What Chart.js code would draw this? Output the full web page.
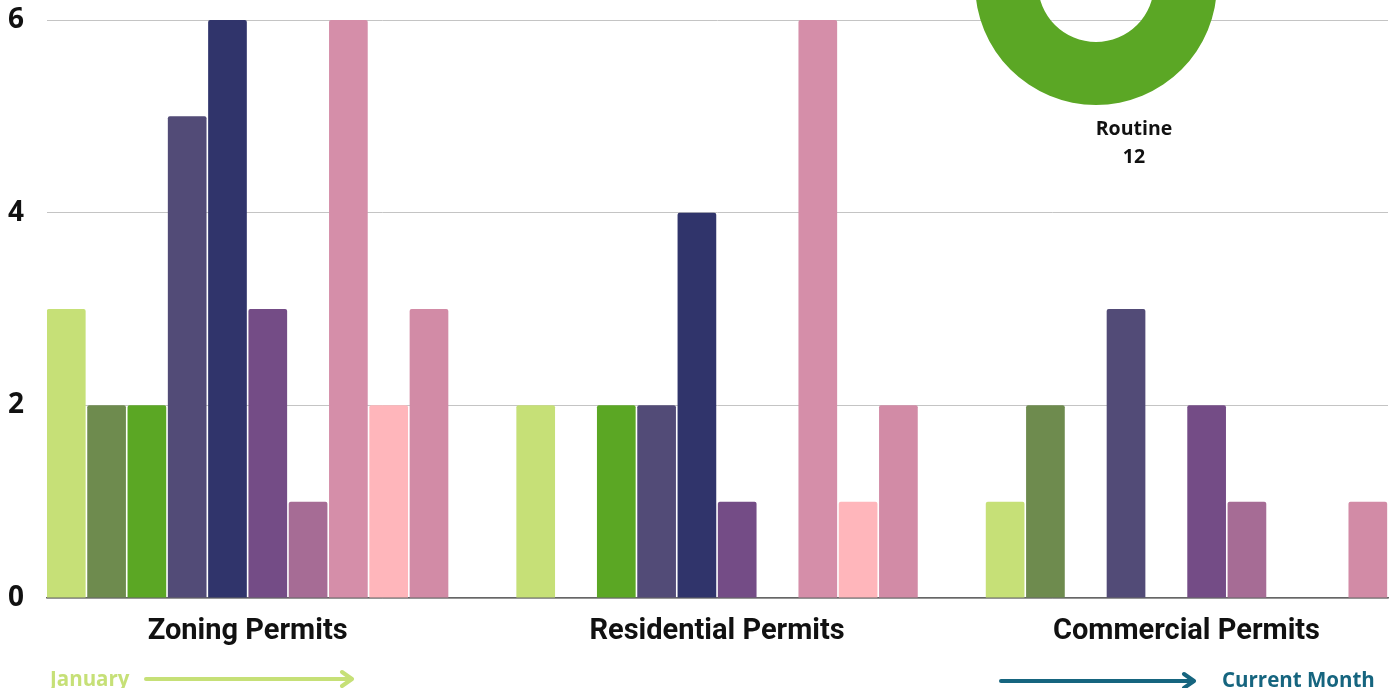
<!DOCTYPE html>
<html lang="en">
<head>
    <meta charset="UTF-8">
    <title>Permits by Month</title>
    <style>
        html, body {
            margin: 0;
            padding: 0;
            background: #ffffff;
            overflow: hidden;
        }

        .stage {
            position: relative;
            width: 1396px;
            height: 688px;
            overflow: hidden;
        }

        #permitChart {
            position: absolute;
            left: 0;
            top: 0;
        }

        #typeChart {
            position: absolute;
            left: 966px;
            top: -146px;
        }

        .note {
            position: absolute;
            font-family: 'Open Sans', sans-serif;
            font-weight: 700;
            font-size: 20.5px;
            line-height: 20px;
            white-space: nowrap;
        }

        .arrow {
            position: absolute;
            left: 0;
            top: 0;
        }
    </style>
</head>
<body>
    <div class="stage">
        <canvas id="permitChart" width="1396" height="688"></canvas>
        <canvas id="typeChart" width="260" height="320"></canvas>

        <div class="note" id="startNote" style="left: 50px; top: 668px; color: #c6e077;">January</div>
        <div class="note" id="endNote" style="left: 1222px; top: 669px; color: #16657f;">Current Month</div>
        <svg class="arrow" width="1396" height="688">
            <g fill="none" stroke-width="4" stroke-linecap="round" stroke-linejoin="round">
                <line x1="146" y1="679" x2="351" y2="679" stroke="#c6e077"/>
                <polyline points="342,672 352,679 342,686" stroke="#c6e077"/>
                <line x1="1001" y1="681" x2="1193" y2="681" stroke="#16657f"/>
                <polyline points="1184,674 1194,681 1184,688" stroke="#16657f"/>
            </g>
        </svg>
    </div>

    <script src="https://cdn.jsdelivr.net/npm/chart.js"></script>
    <script>
        // categories on the x axis
        const categories = ['Zoning Permits', 'Residential Permits', 'Commercial Permits'];

        // one bar per month, January first
        const months = ['January', 'February', 'March', 'April', 'May', 'June', 'July', 'August', 'September', 'October'];
        const zoningCounts = [3, 2, 2, 5, 6, 3, 1, 6, 2, 3];
        const residentialCounts = [2, 0, 2, 2, 4, 1, 0, 6, 1, 2];
        const commercialCounts = [1, 2, 0, 3, 0, 2, 1, 0, 0, 1];

        const yTicks = [0, 2, 4, 6];

        // doughnut in the top corner
        const typeLabels = ['Routine'];
        const typeCounts = [12];

        const monthColors = ['#c6e077', '#6e8b4e', '#5ba724', '#524b77', '#30346b',
                             '#744c86', '#a66c95', '#d58ea9', '#ffb6bb', '#d28ba6'];

        const datasets = months.map((month, i) => ({
            label: month,
            data: [zoningCounts[i], residentialCounts[i], commercialCounts[i]].map((v, j) => ({ x: j, y: v })),
            backgroundColor: monthColors[i],
            borderWidth: 0,
            borderRadius: 2,
            categoryPercentage: 0.8585,
            barPercentage: 0.96
        }));

        const permitChart = new Chart(document.getElementById('permitChart'), {
            type: 'bar',
            data: { datasets: datasets },
            options: {
                responsive: false,
                animation: false,
                layout: { padding: { left: 8, right: 8, top: 20, bottom: 0 } },
                plugins: {
                    legend: { display: false },
                    tooltip: { enabled: false }
                },
                scales: {
                    x: {
                        type: 'linear',
                        offset: false,
                        min: -0.4274,
                        max: 2.4293,
                        afterBuildTicks: scale => {
                            scale.ticks = categories.map((c, i) => ({ value: i }));
                        },
                        afterFit: scale => { scale.height = 90; },
                        grid: { display: false, drawTicks: false, offset: false },
                        border: { display: true, color: '#666666', width: 1.5 },
                        ticks: {
                            autoSkip: false,
                            maxRotation: 0,
                            padding: 16,
                            color: '#111111',
                            font: { family: 'Roboto', weight: '700', size: 29 },
                            callback: value => categories[value]
                        }
                    },
                    y: {
                        min: 0,
                        max: 6,
                        afterBuildTicks: scale => {
                            scale.ticks = yTicks.map(v => ({ value: v }));
                        },
                        afterFit: scale => { scale.width = 39; },
                        grid: { color: '#c4c4c4', drawTicks: false },
                        border: { display: false },
                        ticks: {
                            padding: 0,
                            crossAlign: 'far',
                            color: '#111111',
                            font: { family: 'Open Sans', weight: '700', size: 28 }
                        }
                    }
                }
            }
        });

        // label under the doughnut: name and count
        const typeLabelPlugin = {
            id: 'typeLabel',
            afterDraw(chart) {
                const ctx = chart.ctx;
                ctx.save();
                ctx.fillStyle = '#111111';
                ctx.font = '700 19.5px "Open Sans"';
                ctx.textAlign = 'center';
                ctx.textBaseline = 'middle';
                ctx.fillText(typeLabels[0], 168, 275);
                ctx.fillText(String(typeCounts[0]), 168, 303);
                ctx.restore();
            }
        };

        const typeChart = new Chart(document.getElementById('typeChart'), {
            type: 'doughnut',
            data: {
                labels: typeLabels,
                datasets: [{
                    data: typeCounts,
                    backgroundColor: ['#5ba725'],
                    borderWidth: 0
                }]
            },
            options: {
                responsive: false,
                maintainAspectRatio: false,
                animation: false,
                cutout: 58,
                layout: { padding: { left: 9, right: 9, top: 9, bottom: 69 } },
                plugins: {
                    legend: { display: false },
                    tooltip: { enabled: false }
                }
            },
            plugins: [typeLabelPlugin]
        });
    </script>
</body>
</html>
